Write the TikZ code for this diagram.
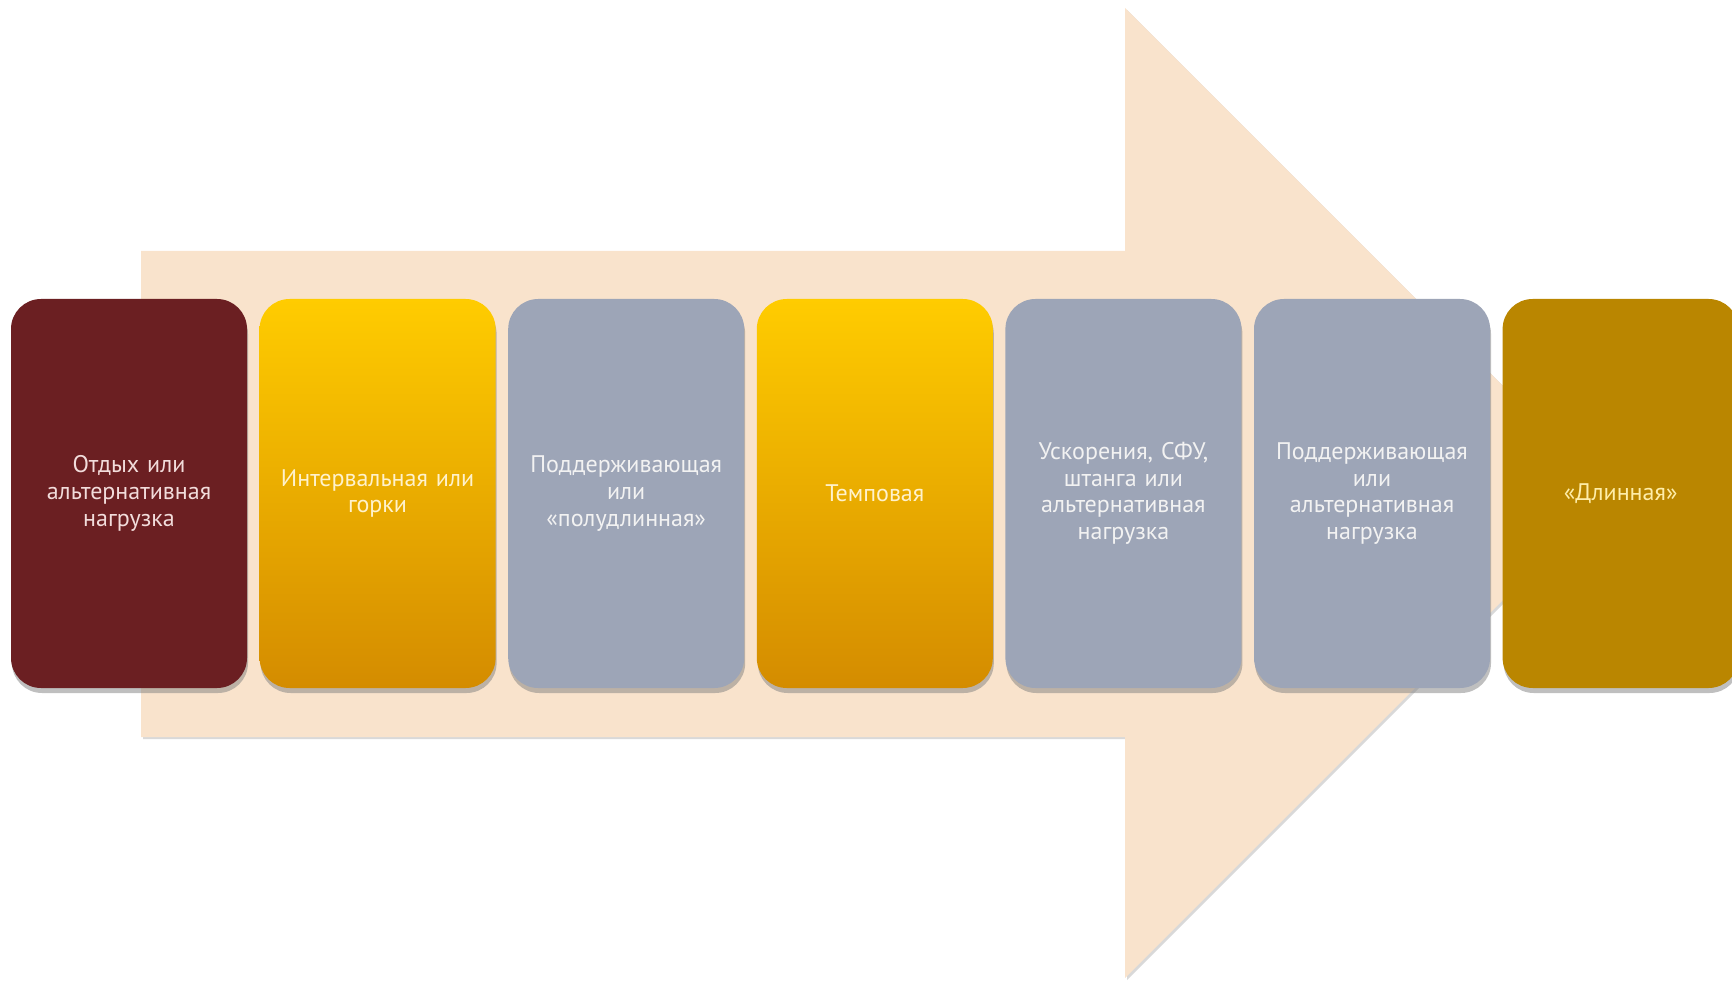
\documentclass[tikz,border=0pt]{standalone}
\usepackage{fontspec}
\setmainfont{PT Sans}
\usepackage{tikz}
\usetikzlibrary{positioning,shadows}
\definecolor{arrowfill}{RGB}{249,227,204}
\definecolor{restred}{RGB}{107,31,34}
\definecolor{slowgray}{RGB}{157,165,183}
\definecolor{longgold}{RGB}{186,134,0}
\definecolor{ambertop}{RGB}{255,204,0}
\definecolor{amberbot}{RGB}{212,140,0}
\tikzset{
  stage/.style={rounded corners=15pt, minimum width=118pt, minimum height=194.5pt, text width=112pt, inner sep=0pt, align=center, font=\fontsize{12}{13.3}\selectfont, drop shadow={opacity=0.5, shadow xshift=0.5pt, shadow yshift=-2.5pt}},
  restbox/.style={stage, fill=restred, text={rgb,255:red,242;green,220;blue,219}},
  amberbox/.style={stage, top color=ambertop, bottom color=amberbot, text={rgb,255:red,255;green,242;blue,204}},
  graybox/.style={stage, fill=slowgray, text={rgb,255:red,242;green,242;blue,242}},
  longbox/.style={stage, fill=longgold, text={rgb,255:red,255;green,238;blue,170}},
}
\begin{document}
\begin{tikzpicture}[x=0.5pt,y=0.5pt]
  \useasboundingbox (0,0) rectangle (1732,981);
  \clip (0,0) rectangle (1732,981);
  % Big arrow behind the stages
  \fill[arrowfill, drop shadow={opacity=0.3, shadow xshift=1pt, shadow yshift=-1pt}]
    (141,244) -- (1125,244) -- (1125,3) -- (1610,488) -- (1125,973) -- (1125,730) -- (141,730) -- cycle;
  % Stages
  \node[restbox] (rest) at (129,487.5) {Отдых или\\альтернативная\\нагрузка};
  \node[amberbox, right=5.9pt of rest] (interval) {Интервальная или\\горки};
  \node[graybox, right=5.9pt of interval] (support) {Поддерживающая\\или\\«полудлинная»};
  \node[amberbox, right=5.9pt of support] (tempo) {Темповая};
  \node[graybox, right=5.9pt of tempo] (speed) {Ускорения, СФУ,\\штанга или\\альтернативная\\нагрузка};
  \node[graybox, right=5.9pt of speed] (easy) {Поддерживающая\\или\\альтернативная\\нагрузка};
  \node[longbox, right=5.9pt of easy] (long) {«Длинная»};
\end{tikzpicture}
\end{document}
